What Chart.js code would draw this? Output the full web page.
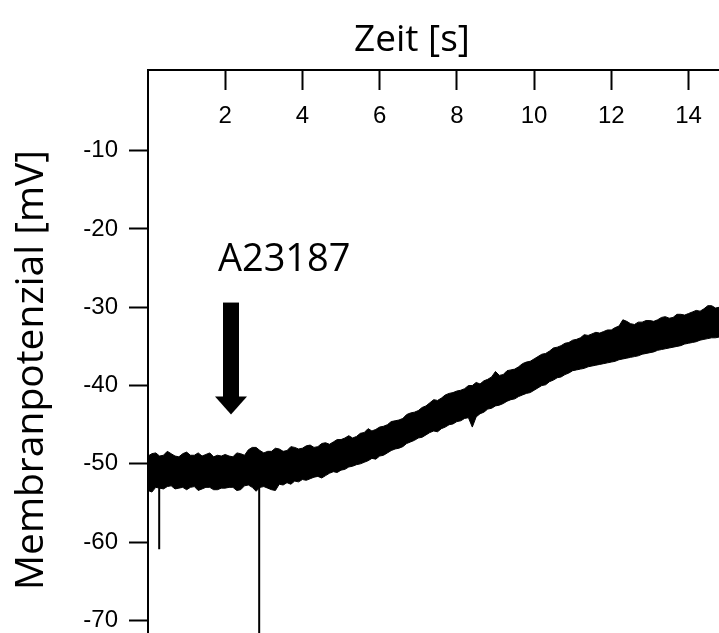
<!DOCTYPE html>
<html>
<head>
<meta charset="utf-8">
<script src="https://cdn.jsdelivr.net/npm/chart.js@4.4.1/dist/chart.umd.min.js"></script>
<style>
  html, body { margin: 0; padding: 0; background: #fff; }
  #box { width: 719px; height: 633px; }
</style>
</head>
<body>
<div id="box"><canvas id="trace"></canvas></div>
<script>
var zeit = [0.0, 0.1, 0.2, 0.3, 0.4, 0.5, 0.6, 0.7, 0.8, 0.9,
  1.0, 1.1, 1.2, 1.3, 1.4, 1.5, 1.6, 1.7, 1.8, 1.9,
  2.0, 2.1, 2.2, 2.3, 2.4, 2.5, 2.6, 2.7, 2.8, 2.9,
  3.0, 3.1, 3.2, 3.3, 3.4, 3.5, 3.6, 3.7, 3.8, 3.9,
  4.0, 4.1, 4.2, 4.3, 4.4, 4.5, 4.6, 4.7, 4.8, 4.9,
  5.0, 5.1, 5.2, 5.3, 5.4, 5.5, 5.6, 5.7, 5.8, 5.9,
  6.0, 6.1, 6.2, 6.3, 6.4, 6.5, 6.6, 6.7, 6.8, 6.9,
  7.0, 7.1, 7.2, 7.3, 7.4, 7.5, 7.6, 7.7, 7.8, 7.9,
  8.0, 8.1, 8.2, 8.3, 8.4, 8.5, 8.6, 8.7, 8.8, 8.9,
  9.0, 9.1, 9.2, 9.3, 9.4, 9.5, 9.6, 9.7, 9.8, 9.9,
  10.0, 10.1, 10.2, 10.3, 10.4, 10.5, 10.6, 10.7, 10.8, 10.9,
  11.0, 11.1, 11.2, 11.3, 11.4, 11.5, 11.6, 11.7, 11.8, 11.9,
  12.0, 12.1, 12.2, 12.3, 12.4, 12.5, 12.6, 12.7, 12.8, 12.9,
  13.0, 13.1, 13.2, 13.3, 13.4, 13.5, 13.6, 13.7, 13.8, 13.9,
  14.0, 14.1, 14.2, 14.3, 14.4, 14.5, 14.6, 14.7, 14.8];

// obere Kante des Rauschbands [mV]
var oben = [-49.0, -48.7, -48.6, -49.0, -48.9, -48.4, -48.7, -49.0, -49.1, -48.7,
  -48.5, -48.9, -48.9, -48.6, -49.0, -48.8, -48.6, -49.1, -48.9, -49.0,
  -48.8, -49.0, -49.1, -48.6, -48.7, -48.9, -48.2, -47.9, -47.9, -48.3,
  -48.6, -48.4, -48.4, -48.0, -48.1, -48.4, -48.3, -47.8, -47.9, -48.1,
  -48.0, -47.7, -47.6, -47.9, -47.8, -47.4, -47.3, -47.5, -47.2, -46.9,
  -46.9, -46.7, -46.4, -46.7, -46.5, -46.1, -46.0, -45.5, -45.8, -45.6,
  -45.3, -45.2, -45.0, -44.6, -44.5, -44.4, -44.2, -43.7, -43.5, -43.4,
  -43.2, -42.8, -42.6, -42.2, -41.8, -41.9, -41.6, -41.2, -41.0, -40.9,
  -40.7, -40.6, -40.4, -40.0, -40.0, -39.6, -39.8, -39.4, -39.2, -38.9,
  -38.2, -38.7, -38.6, -38.1, -38.0, -37.9, -37.6, -37.2, -37.0, -36.9,
  -36.6, -36.3, -36.0, -35.9, -35.6, -35.2, -35.1, -34.9, -34.6, -34.5,
  -34.2, -34.1, -33.9, -33.5, -33.6, -33.4, -33.2, -33.3, -33.1, -32.9,
  -32.9, -32.6, -32.4, -31.6, -31.8, -32.1, -32.2, -31.9, -31.9, -31.7,
  -31.7, -31.8, -31.6, -31.3, -31.2, -31.4, -31.3, -30.9, -30.9, -31.0,
  -30.8, -30.6, -30.4, -30.5, -30.2, -29.8, -29.8, -30.1, -30.0];

// untere Kante des Rauschbands [mV]
var unten = [-53.4, -53.6, -53.0, -53.1, -53.2, -52.9, -52.8, -53.2, -53.1, -53.0,
  -53.3, -53.0, -52.9, -53.4, -53.2, -53.0, -53.0, -53.3, -53.3, -53.1,
  -53.1, -53.0, -53.0, -53.4, -53.3, -52.8, -52.7, -53.0, -53.5, -53.0,
  -52.9, -53.1, -53.3, -53.4, -52.6, -52.7, -52.4, -52.6, -52.2, -52.3,
  -52.0, -52.1, -51.9, -51.7, -51.6, -51.8, -51.5, -51.2, -51.0, -51.1,
  -50.8, -50.7, -50.4, -50.3, -50.1, -50.0, -49.8, -49.6, -49.3, -49.4,
  -49.0, -48.9, -48.6, -48.3, -48.1, -48.0, -47.8, -47.4, -47.2, -47.0,
  -46.7, -46.6, -46.3, -46.0, -45.8, -45.9, -45.5, -45.3, -45.0, -44.9,
  -44.6, -44.5, -44.2, -44.1, -45.3, -44.0, -43.6, -43.4, -43.0, -42.9,
  -42.6, -42.5, -42.3, -42.0, -41.8, -41.7, -41.4, -41.2, -41.0, -40.9,
  -40.6, -40.3, -40.0, -39.9, -39.5, -39.3, -39.0, -38.9, -38.6, -38.4,
  -38.1, -38.0, -37.9, -37.8, -37.6, -37.5, -37.4, -37.3, -37.2, -37.1,
  -37.0, -36.9, -36.7, -36.6, -36.5, -36.4, -36.3, -36.2, -36.0, -35.9,
  -35.8, -35.7, -35.5, -35.4, -35.3, -35.2, -35.1, -35.0, -34.9, -34.7,
  -34.6, -34.5, -34.4, -34.2, -34.1, -34.0, -33.9, -33.9, -33.8];

// einzelne Ausreißer nach unten
var spikeZeit = [0.29, 2.88];
var spikeVon = [-52.8, -52.5];
var spikeBis = [-60.9, -75];

var xTicks = [2, 4, 6, 8, 10, 12, 14];
var yTicks = [-10, -20, -30, -40, -50, -60, -70];

// Markierung der Zugabe
var zugabeText = "A23187";
var zugabeZeit = 2.15, pfeilVon = -29.4, pfeilBis = -43.7;
var textZeit = 1.81, textWert = -25.4;

function punkte(xs, ys) {
  return xs.map(function(x, i) { return { x: x, y: ys[i] }; });
}

var datasets = [
  { data: punkte(zeit, oben), borderColor: "#000", borderWidth: 1, fill: false },
  { data: punkte(zeit, unten), borderColor: "#000", borderWidth: 1, backgroundColor: "#000", fill: "-1" }
];
spikeZeit.forEach(function(t, i) {
  datasets.push({
    data: [{ x: t, y: spikeVon[i] }, { x: t, y: spikeBis[i] }],
    borderColor: "#000", borderWidth: 2, fill: false
  });
});

var tickFont = { family: "'Liberation Sans', Arial", size: 24 };

// Titel, Zeitachsen-Beschriftung und Pfeil
var beschriftung = {
  id: "beschriftung",
  afterDraw: function(chart) {
    var ctx = chart.ctx;
    var x = chart.scales.x, y = chart.scales.y;
    ctx.save();
    ctx.fillStyle = "#000";

    // Zahlen der Zeitachse innerhalb der Fläche
    ctx.font = "24px 'Liberation Sans', Arial";
    ctx.textAlign = "center";
    ctx.textBaseline = "middle";
    xTicks.forEach(function(v) {
      ctx.fillText(String(v), x.getPixelForValue(v), chart.chartArea.top + 46);
    });

    ctx.font = '37px "Open Sans"';
    ctx.textBaseline = "alphabetic";
    ctx.fillText("Zeit [s]", 412, 51);

    ctx.save();
    ctx.translate(43, 370);
    ctx.rotate(-Math.PI / 2);
    ctx.font = '39px "Open Sans"';
    ctx.fillText("Membranpotenzial [mV]", 0, 0);
    ctx.restore();

    ctx.font = '38px "Open Sans"';
    ctx.textAlign = "left";
    ctx.fillText(zugabeText, x.getPixelForValue(textZeit), y.getPixelForValue(textWert));

    var px = x.getPixelForValue(zugabeZeit);
    var top = y.getPixelForValue(pfeilVon);
    var tip = y.getPixelForValue(pfeilBis);
    ctx.fillRect(px - 8, top, 16, tip - top - 17);
    ctx.beginPath();
    ctx.moveTo(px - 16, tip - 18);
    ctx.lineTo(px + 16, tip - 18);
    ctx.lineTo(px, tip);
    ctx.closePath();
    ctx.fill();
    ctx.restore();
  }
};

new Chart(document.getElementById("trace"), {
  type: "line",
  data: { datasets: datasets },
  options: {
    responsive: true,
    maintainAspectRatio: false,
    animation: false,
    layout: { padding: 0 },
    elements: { point: { radius: 0 }, line: { tension: 0 } },
    plugins: { legend: { display: false }, tooltip: { enabled: false } },
    scales: {
      x: {
        type: "linear",
        position: "top",
        min: 0,
        max: 14.79,
        afterBuildTicks: function(s) { s.ticks = xTicks.map(function(v) { return { value: v }; }); },
        afterFit: function(s) { s.height = 70; s.paddingLeft = 0; s.paddingRight = 0; },
        border: { display: true, color: "#000", width: 2 },
        grid: { drawOnChartArea: false, drawTicks: true, tickLength: -20, tickWidth: 2, tickColor: "#000" },
        ticks: { display: false }
      },
      y: {
        type: "linear",
        position: "left",
        min: -71.6,
        max: 0.3,
        afterBuildTicks: function(s) { s.ticks = yTicks.map(function(v) { return { value: v }; }); },
        afterFit: function(s) { s.width = 148; s.paddingTop = 0; s.paddingBottom = 0; },
        border: { display: true, color: "#000", width: 2 },
        grid: { drawOnChartArea: false, drawTicks: true, tickLength: 19, tickWidth: 2, tickColor: "#000" },
        ticks: { color: "#000", font: tickFont, padding: 11, autoSkip: false }
      }
    }
  },
  plugins: [beschriftung]
});
</script>
</body>
</html>
